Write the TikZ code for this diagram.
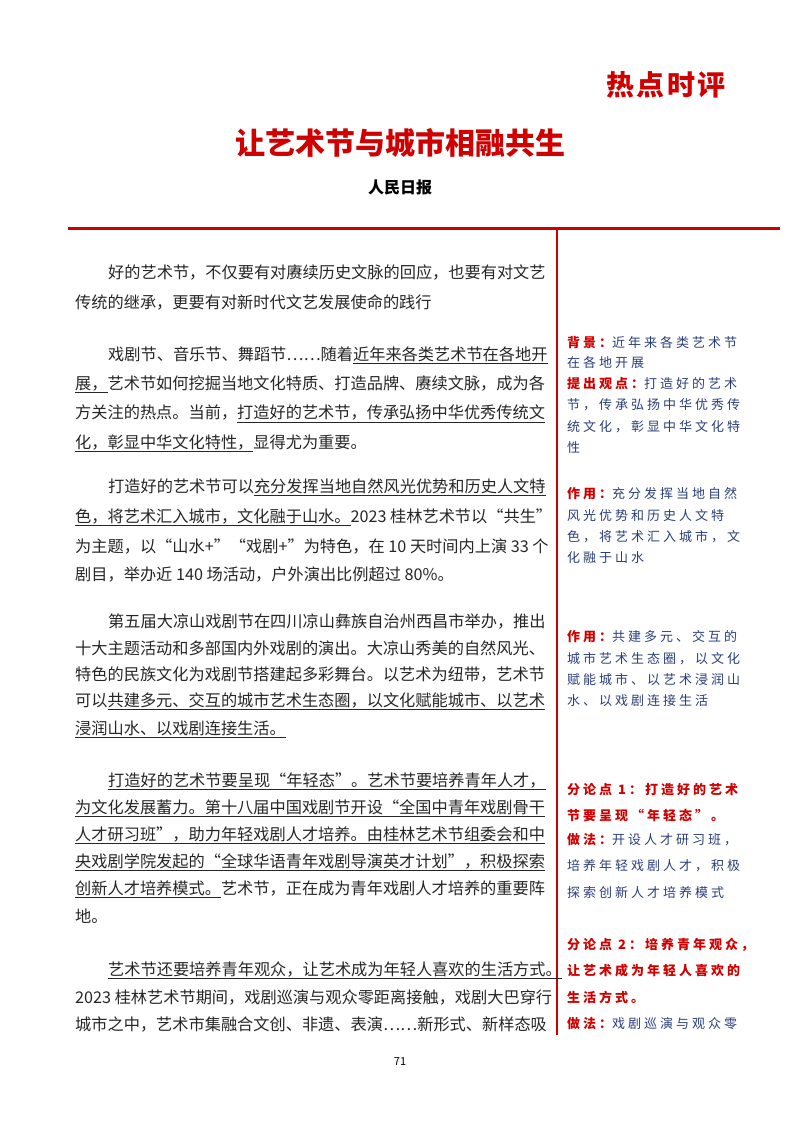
\documentclass[tikz,border=0pt]{standalone}
\usepackage{fontspec}
\setmainfont{Noto Sans CJK SC}
\newfontfamily\sidefont[LetterSpace=23]{Noto Sans CJK SC}
\newfontfamily\tagfont[LetterSpace=8]{Noto Sans CJK SC}
\definecolor{rd}{HTML}{D00000}
\definecolor{nv}{HTML}{2A3F7A}
\newcommand{\ul}[1]{\underline{#1}}
\newcommand{\R}[1]{{\color{rd}\bfseries #1}}
\tikzset{
  body/.style={anchor=west,inner sep=0pt,font=\fontsize{16.2}{18}\selectfont,text=black!85},
  side/.style={anchor=west,inner sep=0pt,font=\sidefont\fontsize{13}{15}\selectfont,text=nv},
  sider/.style={side,text=rd,font=\sidefont\fontsize{13}{15}\selectfont\bfseries}
}
\begin{document}
\begin{tikzpicture}[x=1pt,y=1pt]
\useasboundingbox (0,0) rectangle (800,-1132);
\fill[white] (0,0) rectangle (800,-1132);
\node[anchor=center,inner sep=0pt,text=rd,font=\tagfont\fontsize{28}{30}\selectfont\bfseries] (tag) at (666,-85) {热点时评};
\node[anchor=center,inner sep=0pt,text=rd,font=\fontsize{30}{32}\selectfont\bfseries] (title) at (400,-143) {让艺术节与城市相融共生};
\node[anchor=center,inner sep=0pt,font=\fontsize{16}{18}\selectfont\bfseries] (src) at (400,-187) {人民日报};
\coordinate (hl) at (68,-228); \coordinate (hr) at (780,-228);
\coordinate (vt) at (557,-228); \coordinate (vb) at (557,-1035);
\draw[rd,line width=3pt] (hl) -- (hr);
\draw[rd,line width=2.5pt] (vt) -- (vb);
% body
\node[body] (a1) at (108,-272) {好的艺术节，不仅要有对赓续历史文脉的回应，也要有对文艺};
\node[body] (a2) at (75,-302) {传统的继承，更要有对新时代文艺发展使命的践行};
\node[body] (b1) at (108,-355) {戏剧节、音乐节、舞蹈节……随着\ul{近年来各类艺术节在各地开}};
\node[body] (b2) at (75,-384) {\ul{展，}艺术节如何挖掘当地文化特质、打造品牌、赓续文脉，成为各};
\node[body] (b3) at (75,-414) {方关注的热点。当前，\ul{打造好的艺术节，传承弘扬中华优秀传统文}};
\node[body] (b4) at (75,-443) {\ul{化，彰显中华文化特性，}显得尤为重要。};
\node[body] (c1) at (108,-487) {打造好的艺术节可以\ul{充分发挥当地自然风光优势和历史人文特}};
\node[body] (c2) at (75,-517) {\ul{色，将艺术汇入城市，文化融于山水。}2023 桂林艺术节以“共生”};
\node[body] (c3) at (75,-546) {为主题，以“山水+”“戏剧+”为特色，在 10 天时间内上演 33 个};
\node[body] (c4) at (75,-575) {剧目，举办近 140 场活动，户外演出比例超过 80\%。};
\node[body] (d1) at (108,-621) {第五届大凉山戏剧节在四川凉山彝族自治州西昌市举办，推出};
\node[body] (d2) at (75,-648) {十大主题活动和多部国内外戏剧的演出。大凉山秀美的自然风光、};
\node[body] (d3) at (75,-674) {特色的民族文化为戏剧节搭建起多彩舞台。以艺术为纽带，艺术节};
\node[body] (d4) at (75,-701) {可以\ul{共建多元、交互的城市艺术生态圈，以文化赋能城市、以艺术}};
\node[body] (d5) at (75,-729) {\ul{浸润山水、以戏剧连接生活。}};
\node[body] (e1) at (108,-781) {\ul{打造好的艺术节要呈现“年轻态”。艺术节要培养青年人才，}};
\node[body] (e2) at (75,-808) {\ul{为文化发展蓄力。第十八届中国戏剧节开设“全国中青年戏剧骨干}};
\node[body] (e3) at (75,-835) {\ul{人才研习班”，助力年轻戏剧人才培养。由桂林艺术节组委会和中}};
\node[body] (e4) at (75,-862) {\ul{央戏剧学院发起的“全球华语青年戏剧导演英才计划”，积极探索}};
\node[body] (e5) at (75,-889) {\ul{创新人才培养模式。}艺术节，正在成为青年戏剧人才培养的重要阵};
\node[body] (e6) at (75,-916) {地。};
\node[body] (f1) at (108,-970) {\ul{艺术节还要培养青年观众，让艺术成为年轻人喜欢的生活方式。}};
\node[body] (f2) at (75,-997) {2023 桂林艺术节期间，戏剧巡演与观众零距离接触，戏剧大巴穿行};
\node[body] (f3) at (75,-1024) {城市之中，艺术市集融合文创、非遗、表演……新形式、新样态吸};
\node[anchor=center,inner sep=0pt,font=\fontsize{11}{12}\selectfont] (pg) at (400,-1062) {71};
% sidebar
\node[side] (s1) at (567,-343) {\R{背景：}近年来各类艺术节};
\node[side] (s2) at (567,-363) {在各地开展};
\node[side] (s3) at (567,-384) {\R{提出观点：}打造好的艺术};
\node[side] (s4) at (567,-405) {节，传承弘扬中华优秀传};
\node[side] (s5) at (567,-427) {统文化，彰显中华文化特};
\node[side] (s6) at (567,-448) {性};
\node[side] (t1) at (567,-494) {\R{作用：}充分发挥当地自然};
\node[side] (t2) at (567,-516) {风光优势和历史人文特};
\node[side] (t3) at (567,-537) {色，将艺术汇入城市，文};
\node[side] (t4) at (567,-558) {化融于山水};
\node[side] (u1) at (567,-637) {\R{作用：}共建多元、交互的};
\node[side] (u2) at (567,-659) {城市艺术生态圈，以文化};
\node[side] (u3) at (567,-680) {赋能城市、以艺术浸润山};
\node[side] (u4) at (567,-701) {水、以戏剧连接生活};
\node[sider] (v1) at (567,-790) {分论点 1：打造好的艺术};
\node[sider] (v2) at (567,-815) {节要呈现“年轻态”。};
\node[side] (v3) at (567,-840) {\R{做法：}开设人才研习班，};
\node[side] (v4) at (567,-866) {培养年轻戏剧人才，积极};
\node[side] (v5) at (567,-893) {探索创新人才培养模式};
\node[sider] (w1) at (567,-945) {分论点 2：培养青年观众，};
\node[sider] (w2) at (567,-971) {让艺术成为年轻人喜欢的};
\node[sider] (w3) at (567,-997) {生活方式。};
\node[side] (w4) at (567,-1024) {\R{做法：}戏剧巡演与观众零};
\end{tikzpicture}
\end{document}
